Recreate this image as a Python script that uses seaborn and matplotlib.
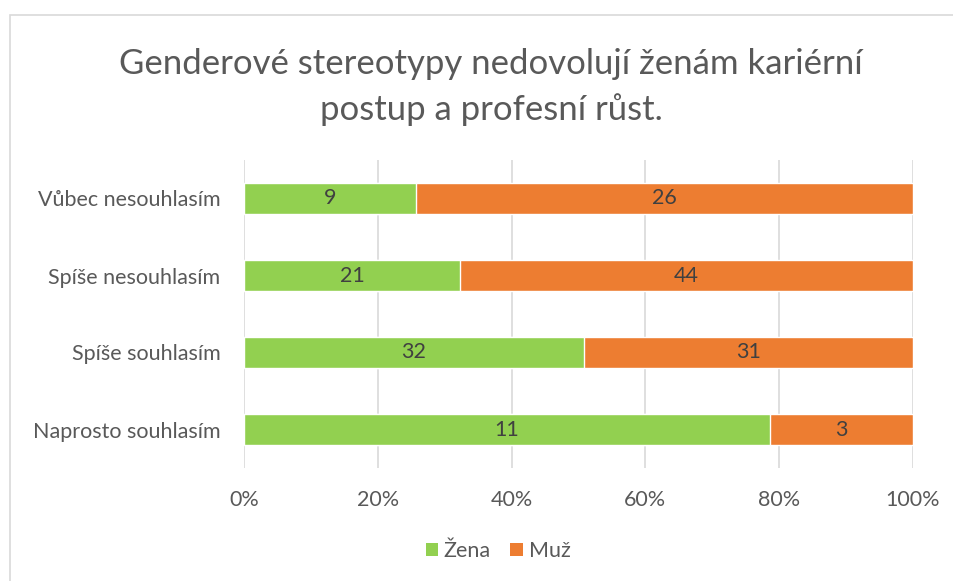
import matplotlib
matplotlib.use("Agg")
import matplotlib.pyplot as plt
import seaborn as sns
import pandas as pd
import numpy as np
from matplotlib.patches import Rectangle, Patch

categories = ["Vůbec nesouhlasím", "Spíše nesouhlasím", "Spíše souhlasím", "Naprosto souhlasím"]
zena = [9, 21, 32, 11]
muz = [26, 44, 31, 3]
xticks = [0, 20, 40, 60, 80, 100]
title = "Genderové stereotypy nedovolují ženám kariérní\npostup a profesní růst."

sns.set_theme(style="white")
plt.rcParams['font.family'] = ['Lato', 'DejaVu Sans']

GREEN = "#92D050"
ORANGE = "#ED7D31"
TXT = "#595959"
FS = 15.5

tot = np.array(zena) + np.array(muz)
zp = np.array(zena) / tot * 100
df = pd.DataFrame({"cat": categories, "zena_pct": zp, "total": 100.0})

fig = plt.figure(figsize=(9.54, 5.81), dpi=100)
ax = fig.add_axes([244/954, 1-468/581, (913-244)/954, (468-160)/581])

sns.barplot(data=df, y="cat", x="total", color=ORANGE, orient="h", width=0.39,
            ax=ax, saturation=1, zorder=3)
sns.barplot(data=df, y="cat", x="zena_pct", color=GREEN, orient="h", width=0.39,
            ax=ax, saturation=1, zorder=3)

for i in range(len(categories)):
    ax.text(zp[i]/2, i, str(zena[i]), ha="center", va="center", fontsize=FS, color="#404040", zorder=5)
    ax.text(zp[i] + (100-zp[i])/2, i, str(muz[i]), ha="center", va="center", fontsize=FS, color="#404040", zorder=5)

ax.set_xlim(0, 100)
ax.set_ylim(3.5, -0.5)
ax.set_xticks(xticks)
ax.set_xticklabels([f"{t}%" for t in xticks], fontsize=FS, color=TXT)
ax.tick_params(axis="x", length=0, pad=16)
ax.tick_params(axis="y", length=0, pad=17)
for lab in ax.get_yticklabels():
    lab.set_fontsize(FS)
    lab.set_color(TXT)
ax.set_xlabel("")
ax.set_ylabel("")
for s in ax.spines.values():
    s.set_visible(False)
ax.xaxis.grid(True, color="#D9D9D9", linewidth=1.2, zorder=0)
ax.set_axisbelow(True)

fig.text(491/954, 1-87/581, title, ha="center", va="center", fontsize=25, color=TXT, linespacing=1.5)

handles = [Patch(facecolor=GREEN, edgecolor="none"), Patch(facecolor=ORANGE, edgecolor="none")]
fig.legend(handles, ["Žena", "Muž"], loc="center", bbox_to_anchor=(498/954, 1-551/581), ncol=2,
           frameon=False, fontsize=FS, labelcolor=TXT, handlelength=0.6, handleheight=0.6,
           handletextpad=0.25, columnspacing=0.9)

fig.patches.append(Rectangle((10/954, -0.1), 1.2, 1 - 15/581 + 0.1, transform=fig.transFigure,
                             fill=False, edgecolor="#D9D9D9", linewidth=1.2))

fig.savefig("out.png", dpi=100)
